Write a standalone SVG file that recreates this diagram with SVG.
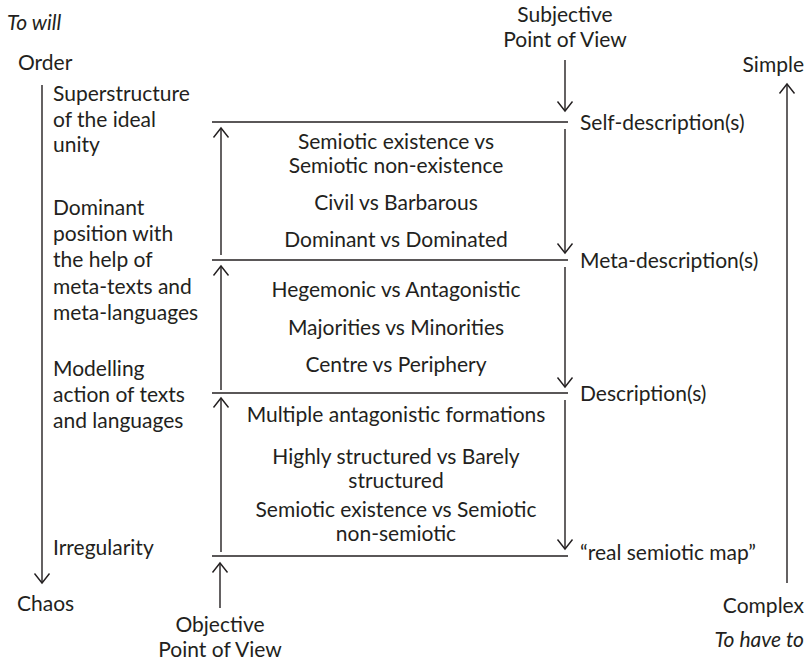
<svg xmlns="http://www.w3.org/2000/svg" width="811" height="663" viewBox="0 0 811 663">
<style>
text{font-family:Lato,"Open Sans","Liberation Sans",sans-serif;font-size:21px;fill:#231f20}
.it{font-style:italic}
.c{text-anchor:middle}
.r{text-anchor:end}
.ln{stroke:#231f20;stroke-width:1.4;fill:none}
.ar{stroke:#231f20;stroke-width:1.4;fill:none;marker-end:url(#ah)}
</style>
<defs>
<marker id="ah" markerUnits="userSpaceOnUse" markerWidth="20" markerHeight="20" refX="10" refY="10" orient="auto" overflow="visible">
<path d="M0.5 2.5 L10 10 L0.5 17.5" fill="none" stroke="#231f20" stroke-width="1.4"/>
</marker>
</defs>
<rect width="811" height="663" fill="#fff"/>
<g id="connectors">
<line class="ln" x1="212" y1="122" x2="568" y2="122"/>
<line class="ln" x1="212" y1="260" x2="568" y2="260"/>
<line class="ln" x1="212" y1="393" x2="568" y2="393"/>
<line class="ln" x1="212" y1="556" x2="568" y2="556"/>
<line class="ar" x1="42" y1="85" x2="42" y2="583"/>
<line class="ar" x1="787" y1="583" x2="787" y2="84"/>
<line class="ar" x1="565" y1="60" x2="565" y2="111"/>
<line class="ar" x1="220" y1="608" x2="220" y2="563"/>
<line class="ar" x1="221" y1="255" x2="221" y2="128"/>
<line class="ar" x1="221" y1="390" x2="221" y2="266"/>
<line class="ar" x1="221" y1="552" x2="221" y2="398"/>
<line class="ar" x1="565" y1="129" x2="565" y2="253"/>
<line class="ar" x1="565" y1="267" x2="565" y2="387"/>
<line class="ar" x1="565" y1="400" x2="565" y2="549"/>
</g>
<g id="to-will"><text class="it" x="7" y="30">To will</text></g>
<g id="order"><text x="18" y="70">Order</text></g>
<g id="chaos"><text x="17" y="611">Chaos</text></g>
<g id="simple"><text class="r" x="804" y="72">Simple</text></g>
<g id="complex"><text class="r" x="804" y="613">Complex</text></g>
<g id="to-have-to"><text class="it r" x="804" y="647">To have to</text></g>
<g id="subjective"><text class="c" x="565" y="22">Subjective</text><text class="c" x="565" y="47">Point of View</text></g>
<g id="objective"><text class="c" x="220" y="632">Objective</text><text class="c" x="220" y="657">Point of View</text></g>
<g id="left-1"><text x="53" y="101">Superstructure</text><text x="53" y="127">of the ideal</text><text x="53" y="152">unity</text></g>
<g id="left-2"><text x="53" y="215">Dominant</text><text x="53" y="241">position with</text><text x="53" y="267">the help of</text><text x="53" y="294">meta-texts and</text><text x="53" y="320">meta-languages</text></g>
<g id="left-3"><text x="53" y="376">Modelling</text><text x="53" y="402">action of texts</text><text x="53" y="428">and languages</text></g>
<g id="left-4"><text x="53" y="555">Irregularity</text></g>
<g id="right-1"><text x="580" y="130">Self-description(s)</text></g>
<g id="right-2"><text x="580" y="268">Meta-description(s)</text></g>
<g id="right-3"><text x="580" y="401">Description(s)</text></g>
<g id="right-4"><text x="580" y="560">“real semiotic map”</text></g>
<g id="band-1"><text class="c" x="396" y="149">Semiotic existence vs</text><text class="c" x="396" y="173">Semiotic non-existence</text><text class="c" x="396" y="210">Civil vs Barbarous</text><text class="c" x="396" y="247">Dominant vs Dominated</text></g>
<g id="band-2"><text class="c" x="396" y="297">Hegemonic vs Antagonistic</text><text class="c" x="396" y="335">Majorities vs Minorities</text><text class="c" x="396" y="372">Centre vs Periphery</text></g>
<g id="band-3"><text class="c" x="396" y="422">Multiple antagonistic formations</text><text class="c" x="396" y="464">Highly structured vs Barely</text><text class="c" x="396" y="488">structured</text><text class="c" x="396" y="517">Semiotic existence vs Semiotic</text><text class="c" x="396" y="541">non-semiotic</text></g>
</svg>
